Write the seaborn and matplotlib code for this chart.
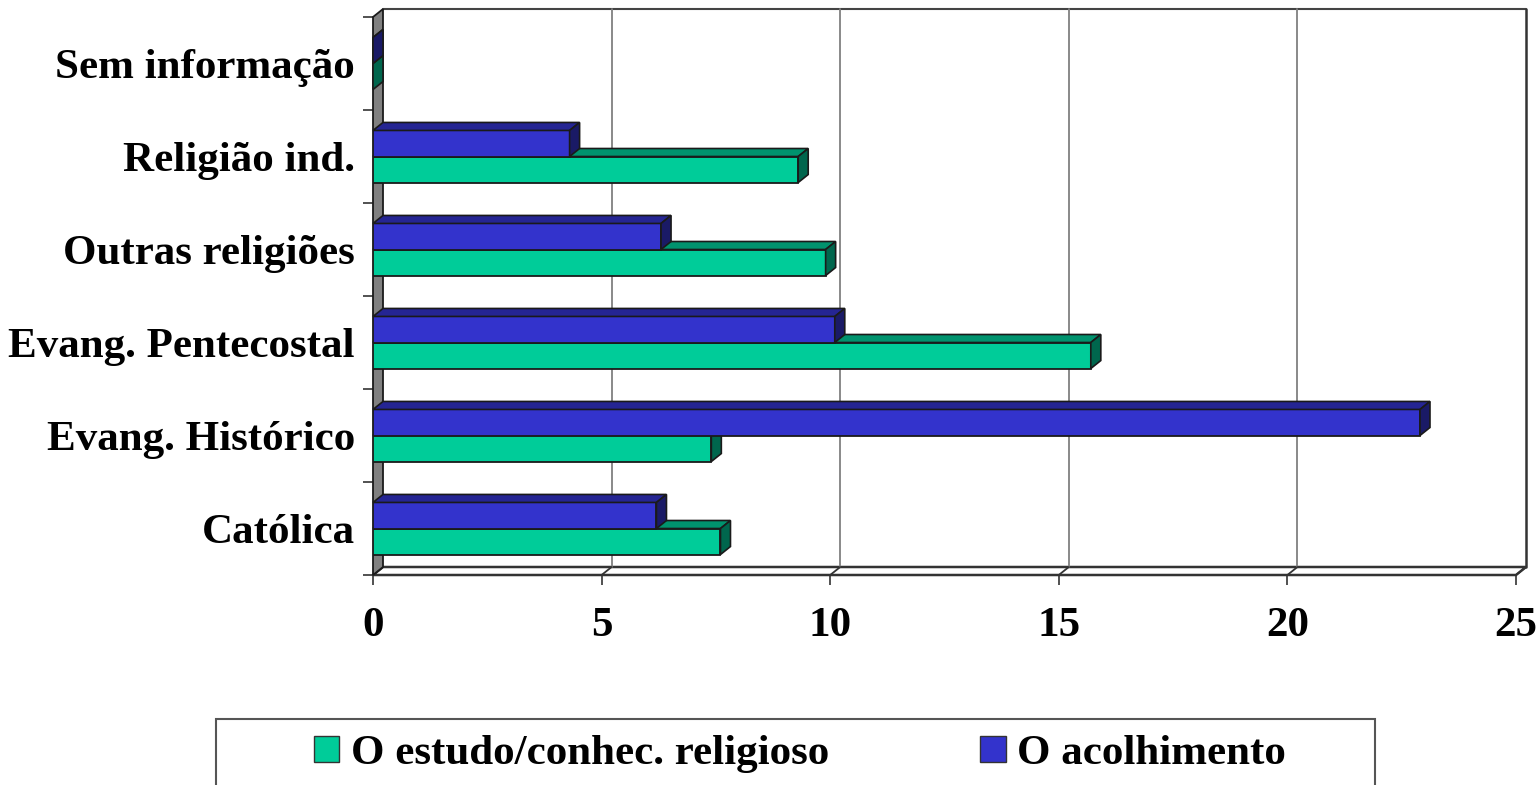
import matplotlib
matplotlib.use("Agg")
import matplotlib.pyplot as plt
import seaborn as sns
import pandas as pd
import numpy as np
from matplotlib.patches import Polygon, Rectangle, Patch
from matplotlib.ticker import FixedLocator

# ---- data ----
categories = ["Católica", "Evang. Histórico", "Evang. Pentecostal",
              "Outras religiões", "Religião ind.", "Sem informação"]
estudo = [7.6, 7.4, 15.7, 9.9, 9.3, 0.0]
acolhimento = [6.2, 22.9, 10.1, 6.3, 4.3, 0.0]
series_names = ["O estudo/conhec. religioso", "O acolhimento"]
x_ticks = [0, 5, 10, 15, 20, 25]

green = "#00CC99"
blue = "#3333CC"

def shade(hexc, f):
    c = np.array(matplotlib.colors.to_rgb(hexc))
    return tuple(c * f)

df = pd.DataFrame({
    "religiao": categories * 2,
    "valor": estudo + acolhimento,
    "serie": [series_names[0]] * len(categories) + [series_names[1]] * len(categories),
})

sns.set_style("white")
plt.rcParams["font.family"] = ["Liberation Serif", "DejaVu Serif"]
plt.rcParams["font.weight"] = "bold"
plt.rcParams["text.color"] = "black"
plt.rcParams["xtick.color"] = "black"
plt.rcParams["ytick.color"] = "black"
plt.rcParams["xtick.labelcolor"] = "black"
plt.rcParams["ytick.labelcolor"] = "black"

FS = 31

W, H = 1538, 785
fig = plt.figure(figsize=(W / 100, H / 100), dpi=100)
x0p, x1p, y0p, y1p = 373, 1516, 575, 17
ax = fig.add_axes([x0p / W, 1 - y0p / H, (x1p - x0p) / W, (y0p - y1p) / H])

order = categories[::-1]
hue_order = [series_names[1], series_names[0]]
sns.barplot(data=df, x="valor", y="religiao", hue="serie", order=order,
            hue_order=hue_order, palette={series_names[0]: green, series_names[1]: blue},
            orient="h", width=0.56, saturation=1, errorbar=None, legend=False,
            edgecolor="#1a1a1a", linewidth=1.3, ax=ax)

ax.set_xlim(0, 25)
n = len(categories)
ax.set_ylim(n - 0.5, -0.5)
for s in ax.spines.values():
    s.set_visible(False)
ax.set_xlabel("")
ax.set_ylabel("")

# depth offsets in data units
p0 = ax.transData.transform((0, 0))
p1 = ax.transData.transform((1, 1))
pxx = p1[0] - p0[0]
pxy = abs(p1[1] - p0[1])
dx = 10 / pxx
dy = 8 / pxy

# walls / floor
top_y = -0.5 - dy
bot_y = n - 0.5
wall = Polygon([(0, -0.5), (0, bot_y), (dx, bot_y - dy), (dx, top_y)], closed=True,
               facecolor="#808080", edgecolor="#1a1a1a", linewidth=1.3, zorder=0.6, clip_on=False)
ax.add_patch(wall)
floor = Polygon([(0, bot_y), (25, bot_y), (25 + dx, bot_y - dy), (dx, bot_y - dy)], closed=True,
                facecolor="white", edgecolor="#333333", linewidth=1.8, zorder=0.5, clip_on=False)
ax.add_patch(floor)
# back wall top and right edge
ax.plot([dx, 25 + dx], [top_y, top_y], color="#444444", lw=1.5, clip_on=False, zorder=0.5)
ax.plot([25 + dx, 25 + dx], [top_y, bot_y - dy], color="#333333", lw=1.8, clip_on=False, zorder=0.5)
# gridlines on back wall
for xt in x_ticks[1:-1]:
    ax.plot([xt + dx, xt + dx], [top_y, bot_y - dy], color="#808080", lw=1.3, clip_on=False, zorder=0.55)
# floor tick diagonals
for xt in x_ticks:
    ax.plot([xt, xt + dx], [bot_y, bot_y - dy], color="#333333", lw=1.3, clip_on=False, zorder=0.56)

# 3D faces for bars
for ci, cont in enumerate(ax.containers):
    base = blue if ci == 0 else green
    z = 3 if ci == 0 else 2
    for p in cont.patches:
        p.set_zorder(z)
        x = p.get_x()
        w = p.get_width()
        yt = p.get_y()
        yb = yt + p.get_height()
        top = Polygon([(x, yt), (x + w, yt), (x + w + dx, yt - dy), (x + dx, yt - dy)], closed=True,
                      facecolor=shade(base, 0.72), edgecolor="#1a1a1a", linewidth=1.2,
                      zorder=z + 0.1, clip_on=False)
        side = Polygon([(x + w, yt), (x + w, yb), (x + w + dx, yb - dy), (x + w + dx, yt - dy)], closed=True,
                       facecolor=shade(base, 0.5), edgecolor="#1a1a1a", linewidth=1.2,
                       zorder=z + 0.2, clip_on=False)
        ax.add_patch(top)
        ax.add_patch(side)

# ticks
ax.set_xticks(x_ticks)
ax.set_xticklabels([str(t) for t in x_ticks], fontsize=FS, fontweight="bold", color="black")
ax.tick_params(axis="x", direction="out", length=7, width=1.2, color="#333333", pad=16, bottom=True)
ax.set_yticks(range(n))
ax.set_yticklabels(order, fontsize=FS, fontweight="bold", color="black")
ax.yaxis.set_minor_locator(FixedLocator(np.arange(-0.5, n, 1.0)))
ax.tick_params(axis="y", which="major", length=0, pad=13)
ax.tick_params(axis="y", which="minor", direction="out", length=7, width=1.2, color="#333333", left=True)

# legend
frame = Rectangle((216 / W, -0.05), (1375 - 216) / W, (H - 719) / H + 0.05,
                  transform=fig.transFigure, facecolor="none", edgecolor="#555555", linewidth=1.5)
fig.patches.append(frame)
handles = [Patch(facecolor=green, edgecolor="#333333", linewidth=1.0, label=series_names[0]),
           Patch(facecolor=blue, edgecolor="#333333", linewidth=1.0, label=series_names[1])]
leg = fig.legend(handles=handles, loc="center", bbox_to_anchor=(800 / W, 1 - 754 / H), ncol=2,
                 frameon=False, prop={"family": "Liberation Serif", "weight": "bold", "size": FS},
                 handlelength=0.6, handleheight=0.55, handletextpad=0.27, columnspacing=3.5)
for t in leg.get_texts():
    t.set_color("black")

fig.savefig("out.png", dpi=100)
